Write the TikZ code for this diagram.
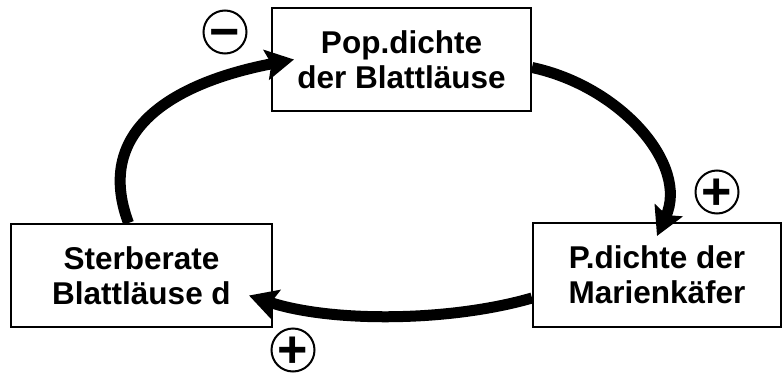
\documentclass[tikz,border=0pt]{standalone}
\usepackage{fontspec}
\setmainfont{Liberation Sans}
\usetikzlibrary{arrows.meta}
\newcommand{\signtext}[1]{\raisebox{-.34em}[0pt][0pt]{#1}}
\begin{document}
\begin{tikzpicture}[x=1pt,y=1pt,
    box/.style={draw,line width=2pt,align=center,inner sep=0pt,
        font=\fontsize{31.5}{35}\selectfont\bfseries},
    sign/.style={draw,circle,line width=2pt,minimum size=43pt,inner sep=0pt,
        font=\fontsize{52}{52}\selectfont\bfseries},
    loop/.style={line width=11pt,-{Stealth[length=28pt,width=30pt,inset=5pt]}}]
    \useasboundingbox (0,0) rectangle (782,376);
    %draw boxes
    \node [box,minimum width=259pt,minimum height=103pt] (blatt) at (401.5,316.5) {Pop.dichte\\der Blattläuse};
    \node [box,minimum width=261pt,minimum height=103pt] (sterbe) at (141.5,100.5) {Sterberate\\Blattläuse d};
    \node [box,minimum width=248pt,minimum height=104pt] (kaefer) at (657,101) {P.dichte der\\Marienkäfer};
    %draw signs
    \node [sign] (minus) at (225,344) {\signtext{−}};
    \node [sign] (plusr) at (717,184) {\signtext{+}};
    \node [sign] (plusb) at (293,26) {\signtext{+}};
    %draw arrows
    \draw [loop] ([xshift=-13pt]sterbe.north) .. controls +(-36,96) and +(-115,-22) .. ([xshift=23pt]blatt.west);
    \draw [loop] ([yshift=-8pt]blatt.east) .. controls +(89,-19) and +(32,71) .. ([yshift=-14pt]kaefer.north);
    \draw [loop] ([yshift=-23pt]kaefer.west) .. controls +(-83,-24) and +(82,-27) .. ([xshift=-24pt,yshift=-20pt]sterbe.east);
\end{tikzpicture}
\end{document}
